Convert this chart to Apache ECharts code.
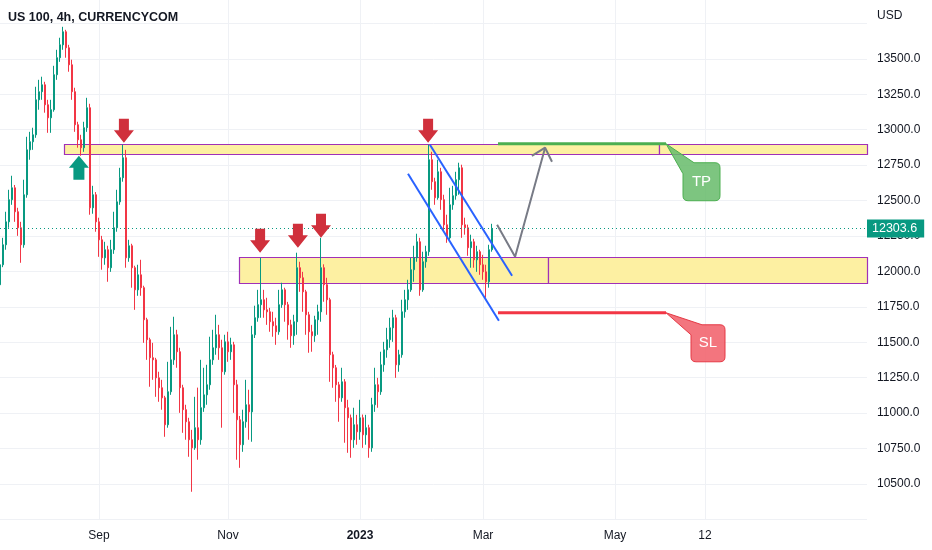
<!DOCTYPE html>
<html><head><meta charset="utf-8">
<script src="https://cdn.jsdelivr.net/npm/echarts@6/dist/echarts.min.js"></script>
<style>html,body{margin:0;padding:0;background:#fff}#c{width:932px;height:550px}</style>
</head><body><div id="c"></div>
<script>
// ---- data (US 100, 4h) ----
const opens = [11906,12047,12188,12350,12506,12590,12421,12308,12188,12541,
 12858,12915,12964,13211,13268,13317,13176,13084,13141,13388,
 13508,13599,13691,13578,13458,13268,13035,12929,12873,13014,
 13155,12449,12541,12350,12223,12096,12153,12026,12153,12308,
 12491,12661,12802,12096,12181,12026,11870,11976,11885,11659,
 11518,11391,11376,11249,11179,11108,10918,11151,11376,11553,
 11433,11179,11024,10939,10812,10755,10897,10812,11038,11129,
 11200,11376,11461,11553,11461,11292,11503,11433,11482,11200,
 10953,10777,10939,11059,11009,11553,11673,11765,11800,11729,
 11715,11645,11616,11574,11765,11870,11765,11623,11546,11645,
 12026,11955,11856,11694,11574,11546,11659,11715,12026,11906,
 11800,11412,11320,11200,11108,11221,11038,10967,10812,10918,
 10868,10967,10847,10897,10755,11059,11200,11151,11341,11447,
 11518,11602,11673,11341,11412,11715,11800,11870,12012,12096,
 12209,11870,12068,12139,12788,12633,12520,12703,12506,12329,
 12237,12470,12534,12647,12731,12329,12308,12167,12209,12082,
 12139,12047,11997,11927,12153];
const closes = [12047,12188,12350,12506,12590,12421,12308,12188,12541,12858,
 12915,12964,13211,13268,13317,13176,13084,13141,13388,13508,
 13599,13691,13578,13458,13268,13035,12929,12873,13014,13155,
 12449,12541,12350,12223,12096,12153,12026,12153,12308,12491,
 12661,12802,12096,12181,12026,11870,11976,11885,11659,11518,
 11391,11376,11249,11179,11108,10918,11151,11376,11553,11433,
 11179,11024,10939,10812,10755,10897,10812,11038,11129,11200,
 11376,11461,11553,11461,11292,11503,11433,11482,11200,10953,
 10777,10939,11059,11009,11553,11673,11765,11800,11729,11715,
 11645,11616,11574,11765,11870,11765,11623,11546,11645,12026,
 11955,11856,11694,11574,11546,11659,11715,12026,11906,11800,
 11412,11320,11200,11108,11221,11038,10967,10812,10918,10868,
 10967,10847,10897,10755,11059,11200,11151,11341,11447,11518,
 11602,11673,11341,11412,11715,11800,11870,12012,12096,12209,
 11870,12068,12139,12788,12633,12520,12703,12506,12329,12237,
 12470,12534,12647,12731,12329,12308,12167,12209,12082,12139,
 12047,11997,11927,12153,12303.6];
const highs = [12153,12237,12421,12576,12675,12610,12449,12350,12647,12950,
 12985,13014,13303,13352,13374,13338,13211,13211,13451,13564,
 13649,13726,13705,13599,13494,13296,13056,12964,13056,13225,
 13183,12604,12560,12379,12251,12209,12181,12223,12421,12576,
 12731,12894,12858,12223,12195,12040,12047,12082,11899,11673,
 11532,11496,11390,11292,11235,11122,11362,11609,11680,11588,
 11461,11200,11059,10967,10882,11115,11180,11376,11320,11341,
 11539,11588,11694,11623,11518,11553,11574,11532,11503,11235,
 10980,11024,11235,11165,11616,11758,11870,12096,11870,11814,
 11743,11715,11673,11870,11920,11885,11785,11659,11694,12132,
 12068,11997,11870,11715,11623,11687,11765,12237,12050,11955,
 11814,11433,11340,11221,11320,11240,11094,10990,11038,10988,
 11094,10990,10988,10918,11108,11320,11249,11433,11503,11602,
 11673,11729,11694,11447,11800,11870,11941,12096,12181,12266,
 12237,12139,12181,12894,12844,12661,12788,12731,12541,12400,
 12590,12604,12703,12767,12753,12379,12330,12259,12230,12181,
 12153,12117,12047,12188,12336];
const lows = [11870,12030,12153,12308,12470,12350,12251,12061,12167,12520,
 12788,12858,12943,13141,13211,13120,12978,12978,13127,13352,
 13479,13564,13508,13409,13211,12985,12873,12816,12844,12985,
 12400,12407,12280,12103,12012,12047,11927,11997,12124,12280,
 12470,12633,12026,12068,11885,11729,11828,11828,11496,11376,
 11186,11235,11115,11080,11024,10833,10897,11129,11341,11320,
 11002,10861,10812,10692,10445,10741,10671,10777,11009,11059,
 11165,11341,11412,11376,10897,11271,11362,11376,11002,10671,
 10614,10727,10897,10812,10798,11530,11645,11673,11673,11623,
 11574,11539,11482,11553,11743,11645,11518,11461,11482,11553,
 11856,11715,11553,11426,11433,11503,11553,11645,11786,11694,
 11221,11179,11080,10939,11080,10791,10720,10685,10755,10777,
 10812,10755,10777,10685,10727,11009,11038,11129,11292,11391,
 11461,11503,11249,11292,11391,11673,11729,11856,11927,12068,
 11828,11856,12026,12110,12576,12470,12506,12435,12280,12202,
 12223,12435,12506,12541,12237,12259,12110,12026,12026,11997,
 11976,11941,11814,11885,12139];
const lastPrice = 12303.6;
const slotCount = 290;                       // bar slots across the visible time range
const xTickIndex = [33, 76, 120, 161, 205, 235];
const xTickLabels = ['Sep', 'Nov', '2023', 'Mar', 'May', '12'];
// drawings (bar index, price)
const zones = [[21.3, 219.7, 12901, 12830], [219.7, 289, 12901, 12830],
               [79.7, 182.7, 12103, 11920], [182.7, 289, 12103, 11920]];
const tpLine = [[166, 12901], [222, 12901]];
const slLine = [[166, 11708], [222, 11708]];
const channelUpper = [[143.3, 12894], [170.7, 11969]];
const channelLower = [[136, 12689], [166.3, 11652]];
const projPath = [[165.7, 12329], [171.7, 12103], [181.7, 12873]];
const projHead = [[177.3, 12816], [181.7, 12873], [184, 12774]];
const downArrows = [[41.3, 12908], [86.7, 12132], [99.3, 12167], [107, 12237], [142.7, 12908]];
const upArrows = [[26.3, 12816]];
const callouts = [[222, 12901, 'TP'], [222, 11708, 'SL']];

// ---- chart ----
const UP = '#089981', DOWN = '#f23645';
const FONT = "'Liberation Sans', Arial, sans-serif";
const chart = echarts.init(document.getElementById('c'), null, {renderer: 'canvas'});
const categories = Array.from({length: slotCount}, (_, i) => String(i));
const candleData = opens.map((o, i) => [o, closes[i], lows[i], highs[i]]);
const isTick = (i) => xTickIndex.indexOf(i) >= 0;

function lineSeries(data, color, width) {
  return {type: 'line', xAxisIndex: 1, yAxisIndex: 0, data: data, symbol: 'none', silent: true, z: 5,
    lineStyle: {color: color, width: width}, animation: false};
}

const calloutStyle = {
  TP: {fill: 'rgba(102,187,106,0.85)', stroke: '#4caf50',
       path: (x, y) => `M${x},${y} L${x+28},${y+19} H${x+49} Q${x+54},${y+19} ${x+54},${y+24} V${y+52} Q${x+54},${y+57} ${x+49},${y+57} H${x+22} Q${x+17},${y+57} ${x+17},${y+52} V${y+30} Z`,
       tx: 35.5, ty: 38.5},
  SL: {fill: 'rgba(242,102,112,0.9)', stroke: '#e53945',
       path: (x, y) => `M${x},${y} L${x+36},${y+12} H${x+54} Q${x+59},${y+12} ${x+59},${y+17} V${y+44} Q${x+59},${y+49} ${x+54},${y+49} H${x+30} Q${x+25},${y+49} ${x+25},${y+44} V${y+22} Z`,
       tx: 42, ty: 30.5}
};

const option = {
  animation: false,
  backgroundColor: '#ffffff',
  title: [
    {text: 'US 100, 4h, CURRENCYCOM', left: 8, top: 11, padding: 0,
     textStyle: {fontFamily: FONT, fontSize: 12.5, fontWeight: 'bold', color: '#131722'}},
    {text: 'USD', left: 877, top: 10, padding: 0,
     textStyle: {fontFamily: FONT, fontSize: 12, fontWeight: 'normal', color: '#131722'}}
  ],
  grid: {left: 0, right: 65, top: -12, bottom: 30.6, outerBoundsMode: 'none'},
  xAxis: [
    {type: 'category', data: categories, boundaryGap: false,
     axisLine: {show: false}, axisTick: {show: false},
     axisLabel: {interval: (i) => isTick(i), margin: 10, color: '#131722', fontSize: 12, fontFamily: FONT,
       formatter: (v, i) => { const k = xTickIndex.indexOf(i); if (k < 0) return '';
         const t = xTickLabels[k]; return /^\d{4}$/.test(t) ? '{y|' + t + '}' : t; },
       rich: {y: {fontWeight: 'bold', fontSize: 12, fontFamily: FONT, color: '#131722'}}},
     splitLine: {show: true, interval: (i) => isTick(i), lineStyle: {color: '#eff1f5', width: 1}}},
    {type: 'value', min: 0, max: slotCount - 1, show: false}
  ],
  yAxis: {type: 'value', position: 'right', min: 10250, max: 14000, interval: 250,
    axisLine: {show: false}, axisTick: {show: false},
    splitLine: {lineStyle: {color: '#eff1f5', width: 1}},
    axisLabel: {margin: 10, color: '#131722', fontSize: 12, fontFamily: FONT,
      formatter: (v) => (v > 13500 || v < 10500) ? '' : v.toFixed(1)}},
  series: [
    {type: 'custom', xAxisIndex: 1, yAxisIndex: 0, data: zones, z: 1, silent: true,
     encode: {x: [0, 1], y: [2, 3]},
     renderItem: (params, api) => {
       const p0 = api.coord([api.value(0), api.value(2)]);
       const p1 = api.coord([api.value(1), api.value(3)]);
       return {type: 'rect',
         shape: {x: Math.round(p0[0]) + 0.5, y: Math.round(p0[1]) + 0.5,
                 width: Math.round(p1[0] - p0[0]), height: Math.round(p1[1] - p0[1])},
         style: {fill: '#fdf0a2', stroke: '#a030b8', lineWidth: 1.2}};
     }},
    {type: 'candlestick', xAxisIndex: 0, yAxisIndex: 0, data: candleData, barWidth: 2, z: 2,
     itemStyle: {color: UP, color0: DOWN, borderColor: UP, borderColor0: DOWN, borderWidth: 1},
     markLine: {silent: true, symbol: ['none', 'none'], animation: false,
       lineStyle: {color: UP, type: [1, 3], width: 1},
       label: {show: true, position: 'end', distance: 0, formatter: lastPrice.toFixed(1),
         backgroundColor: UP, color: '#fff', fontSize: 12.5, fontFamily: FONT, padding: [3, 7, 2, 5]},
       data: [{yAxis: lastPrice}]}},
    lineSeries(channelUpper, '#2962ff', 2),
    lineSeries(channelLower, '#2962ff', 2),
    lineSeries(projPath, '#787b86', 2),
    lineSeries(projHead, '#787b86', 2),
    lineSeries(tpLine, '#4caf50', 3),
    lineSeries(slLine, '#f23645', 3),
    {type: 'scatter', xAxisIndex: 1, yAxisIndex: 0, data: downArrows, z: 6, silent: true,
     symbol: 'path://M5,0 H15 V11 H20 L10,23 L0,11 H5 Z', symbolSize: [20, 24], symbolOffset: [0, '-50%'],
     itemStyle: {color: '#d0303c', opacity: 1}},
    {type: 'scatter', xAxisIndex: 1, yAxisIndex: 0, data: upArrows, z: 6, silent: true,
     symbol: 'path://M10,0 L20,12 H15.5 V24 H4.5 V12 H0 Z', symbolSize: [20, 24], symbolOffset: [0, '50%'],
     itemStyle: {color: '#089981', opacity: 1}},
    {type: 'custom', xAxisIndex: 1, yAxisIndex: 0, z: 7, silent: true,
     data: callouts.map(c => [c[0], c[1]]),
     renderItem: (params, api) => {
       const p = api.coord([api.value(0), api.value(1)]);
       const name = callouts[params.dataIndex][2];
       const st = calloutStyle[name];
       return {type: 'group', children: [
         {type: 'path', shape: {pathData: st.path(p[0], p[1])},
          style: {fill: st.fill, stroke: st.stroke, lineWidth: 1}},
         {type: 'text', x: p[0] + st.tx, y: p[1] + st.ty,
          style: {text: name, fill: '#ffffff', font: "15px 'Liberation Sans', Arial, sans-serif",
                  align: 'center', verticalAlign: 'middle'}}
       ]};
     }}
  ]
};
chart.setOption(option);
</script>
</body></html>
